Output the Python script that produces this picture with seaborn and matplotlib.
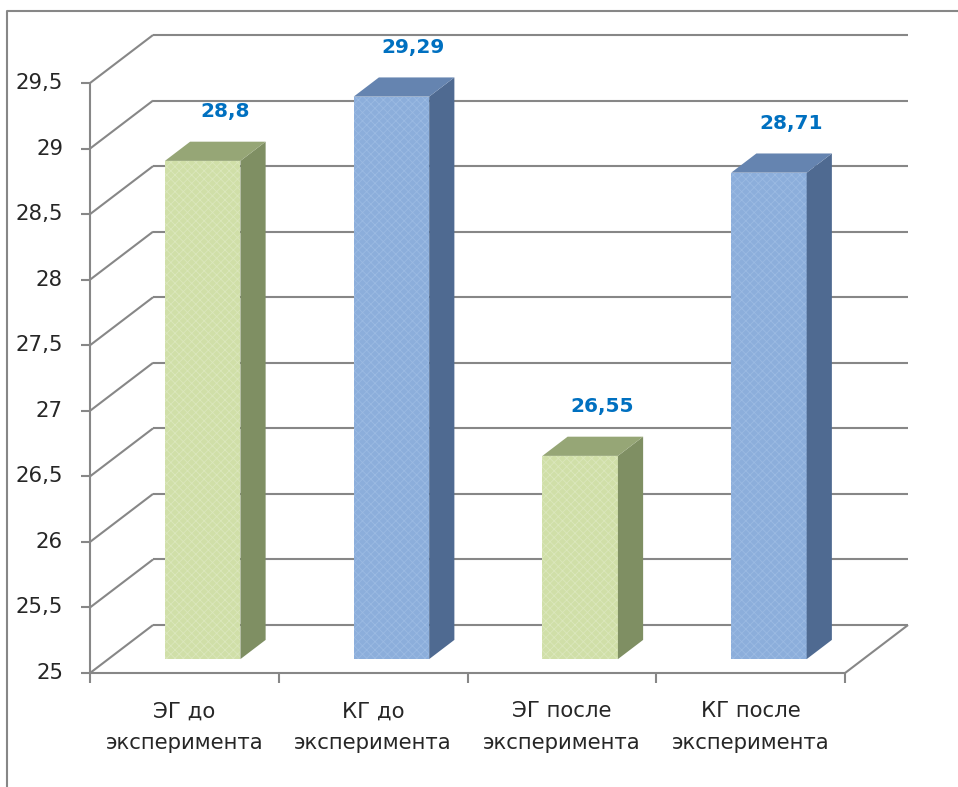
import matplotlib
matplotlib.use("Agg")
import matplotlib.pyplot as plt
import seaborn as sns
import pandas as pd
from matplotlib.patches import Polygon
from matplotlib.lines import Line2D

# ---- data -------------------------------------------------------------
categories = ["ЭГ до\nэксперимента", "КГ до\nэксперимента",
              "ЭГ после\nэксперимента", "КГ после\nэксперимента"]
values = [28.8, 29.29, 26.55, 28.71]
value_labels = ["28,8", "29,29", "26,55", "28,71"]
y_ticks = [25, 25.5, 26, 26.5, 27, 27.5, 28, 28.5, 29, 29.5]
y_tick_labels = ["25", "25,5", "26", "26,5", "27", "27,5", "28", "28,5", "29", "29,5"]

# ---- style ------------------------------------------------------------
front_colors = ["#d0dfa8", "#8caedb", "#d0dfa8", "#8caedb"]
hatch_colors = ["#dbe7bc", "#9bbae2", "#dbe7bc", "#9bbae2"]
side_colors = ["#7f8f63", "#4f6a91", "#7f8f63", "#4f6a91"]
top_colors = ["#96a676", "#6584b0", "#96a676", "#6584b0"]
grid_color = "#878787"
label_color = "#0070c0"
text_color = "#262626"

sns.set_theme(style="white")
plt.rcParams["font.family"] = ["DejaVu Sans"]
plt.rcParams["hatch.linewidth"] = 0.6

W, H, DPI = 958, 787, 100
PX = 72.0 / DPI  # points per pixel

fig = plt.figure(figsize=(W / DPI, H / DPI), dpi=DPI)
fig.patch.set_facecolor("white")

# the axes hold the front plane of the bars; walls and floor are offset in depth
y_min, y_max = y_ticks[0], y_ticks[-1]
ax = fig.add_axes([108.3 / W, 1 - 659.1 / H, 755 / W, 590 / H])
ax.set_xlim(-0.5, len(categories) - 0.5)
ax.set_ylim(y_min, y_max)
ax.set_axis_off()

# depth of the 3-D box expressed in data units
depth_px = (63.0, 48.0)
ppx_x = 755 / len(categories)
ppx_y = 590 / (y_max - y_min)
DX, DY = depth_px[0] / ppx_x, depth_px[1] / ppx_y
f_front = 0.29      # bar front face position inside the depth
bar_depth = 0.40    # bar thickness as fraction of the depth


def front(x, y):
    return x - f_front * DX, y - f_front * DY


def back(x, y):
    return x + (1 - f_front) * DX, y + (1 - f_front) * DY


line_kw = dict(color=grid_color, lw=1.5, clip_on=False, zorder=0.5,
               solid_capstyle="butt")
x_lo, x_hi = -0.5, len(categories) - 0.5

# back wall gridlines and left wall diagonals
for t in y_ticks:
    (bx0, by0), (bx1, by1) = back(x_lo, t), back(x_hi, t)
    ax.add_line(Line2D([bx0, bx1], [by0, by1], **line_kw))
    (fx, fy) = front(x_lo, t)
    ax.add_line(Line2D([fx, bx0], [fy, by0], **line_kw))

# floor front edge and right edge
(fx0, fy0), (fx1, fy1) = front(x_lo, y_min), front(x_hi, y_min)
ax.add_line(Line2D([fx0, fx1], [fy0, fy1], **line_kw))
bx1, by1 = back(x_hi, y_min)
ax.add_line(Line2D([fx1, bx1], [fy1, by1], **line_kw))

# vertical value axis on the front plane
tx, ty = front(x_lo, y_max)
ax.add_line(Line2D([fx0, tx], [fy0, ty], **line_kw))

# value axis ticks and labels
tick_len = 9 / ppx_x
for t, lab in zip(y_ticks, y_tick_labels):
    fx, fy = front(x_lo, t)
    ax.add_line(Line2D([fx - tick_len, fx], [fy, fy], **line_kw))
    ax.annotate(lab, (fx, fy), xytext=(-27 * PX, 0), textcoords="offset points",
                ha="right", va="center", fontsize=15.3, color=text_color,
                annotation_clip=False)

# category axis ticks and labels
tick_len_y = 10 / ppx_y
for i in range(len(categories) + 1):
    fx, fy = front(x_lo + i, y_min)
    ax.add_line(Line2D([fx, fx], [fy, fy - tick_len_y], **line_kw))
for i, cat in enumerate(categories):
    fx, fy = front(i, y_min)
    ax.annotate(cat, (fx, fy), xytext=(0, -54 * PX), textcoords="offset points",
                ha="center", va="center", fontsize=15.3, color=text_color,
                linespacing=1.7, multialignment="center", annotation_clip=False)

# ---- bars ---------------------------------------------------------------
df = pd.DataFrame({"cat": categories, "val": values})
sns.barplot(data=df, x="cat", y="val", hue="cat", palette=front_colors,
            width=0.4, legend=False, ax=ax, saturation=1, linewidth=0,
            zorder=2)
ax.set_xlim(x_lo, x_hi)
ax.set_ylim(y_min, y_max)
ax.set_axis_off()

bars = sorted(ax.patches, key=lambda p: p.get_x())
ddx, ddy = bar_depth * DX, bar_depth * DY
for i, (p, v) in enumerate(zip(bars, values)):
    x0 = p.get_x()
    x1 = x0 + p.get_width()
    top = p.get_y() + p.get_height()
    # soft woven texture on the front face
    p.set_facecolor(front_colors[i])
    p.set_edgecolor(hatch_colors[i])
    p.set_linewidth(0)
    p.set_hatch("xxxx")
    side = Polygon([(x1, y_min), (x1, top), (x1 + ddx, top + ddy), (x1 + ddx, y_min + ddy)],
                   closed=True, facecolor=side_colors[i], edgecolor="none",
                   zorder=2, clip_on=False)
    cap = Polygon([(x0, top), (x1, top), (x1 + ddx, top + ddy), (x0 + ddx, top + ddy)],
                  closed=True, facecolor=top_colors[i], edgecolor="none",
                  zorder=2, clip_on=False)
    ax.add_patch(side)
    ax.add_patch(cap)
    ax.annotate(value_labels[i], (x0 + p.get_width() / 2, top),
                xytext=(22 * PX, 49 * PX), textcoords="offset points",
                ha="center", va="center", fontsize=14.5, fontweight="bold",
                color=label_color, annotation_clip=False)

# outer chart frame
fig.add_artist(Line2D([7 / W, 7 / W, 1.0], [0.0, 1 - 11 / H, 1 - 11 / H],
                      transform=fig.transFigure, color=grid_color, lw=1.5))

fig.savefig("out.png", dpi=DPI, facecolor="white")
